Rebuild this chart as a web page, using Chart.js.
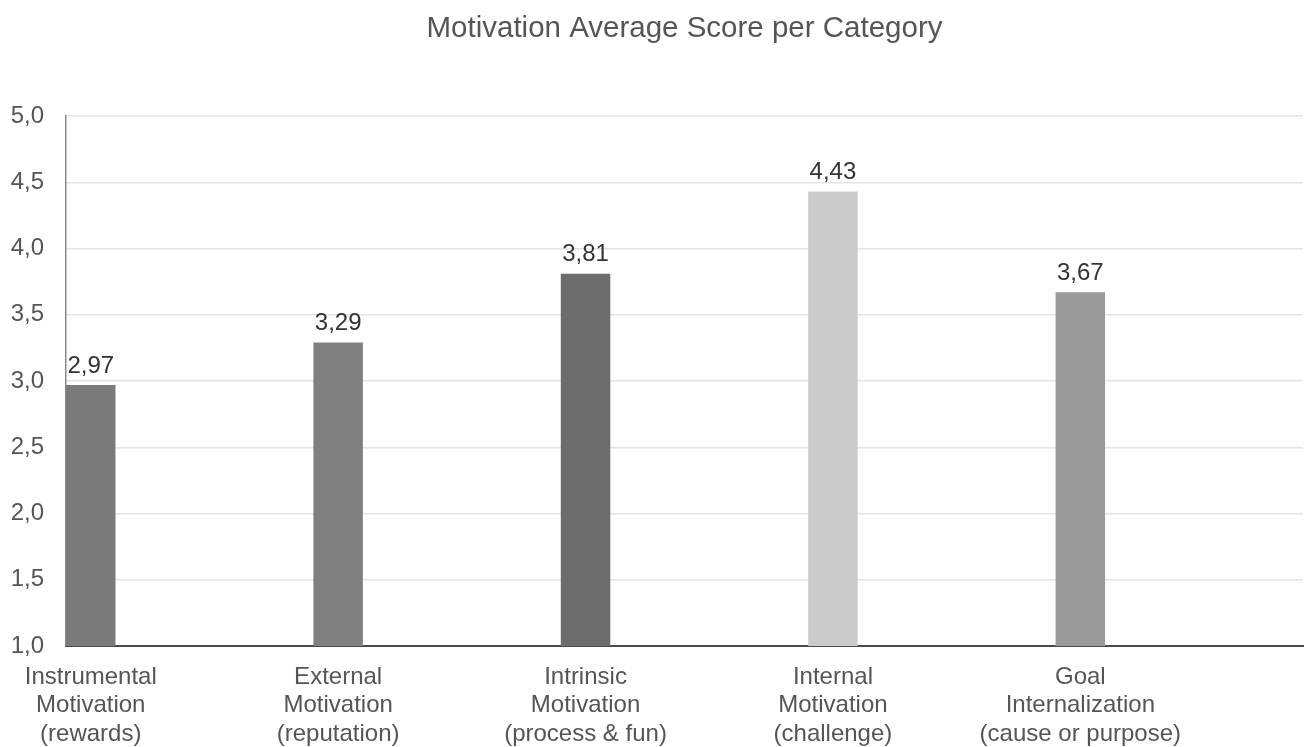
<!DOCTYPE html>
<html>
<head>
<meta charset="utf-8">
<title>Motivation Average Score per Category</title>
<script src="https://cdn.jsdelivr.net/npm/chart.js@4/dist/chart.umd.min.js"></script>
<style>
  html, body { margin: 0; padding: 0; background: #ffffff; }
  canvas { display: block; }
</style>
</head>
<body>
<canvas id="chart" width="1307" height="747"></canvas>
<script>
// Category names, one line per array entry
const categories = [
  ["Instrumental", "Motivation", "(rewards)"],
  ["External", "Motivation", "(reputation)"],
  ["Intrinsic", "Motivation", "(process & fun)"],
  ["Internal", "Motivation", "(challenge)"],
  ["Goal", "Internalization", "(cause or purpose)"]
];
// Average score per category
const scores = [2.97, 3.29, 3.81, 4.43, 3.67];
// Fill colour of each bar
const barColors = ["#7b7b7b", "#808080", "#6d6d6d", "#cbcbcb", "#9a9a9a"];
// Value axis range and step
const yMin = 1.0, yMax = 5.0, yStep = 0.5;

const FONT = "'Liberation Sans', Arial, Helvetica, sans-serif";
const commaNum = (v, d) => Number(v).toFixed(d).replace('.', ',');

// Writes each bar's value above it
const valueLabels = {
  id: 'valueLabels',
  afterDatasetsDraw(chart) {
    const ctx = chart.ctx;
    const meta = chart.getDatasetMeta(0);
    ctx.save();
    ctx.font = "24px " + FONT;
    ctx.fillStyle = "#333333";
    ctx.textAlign = "center";
    ctx.textBaseline = "bottom";
    meta.data.forEach((bar, i) => {
      ctx.fillText(commaNum(scores[i], 2), bar.x, bar.y - 7);
    });
    ctx.restore();
  }
};

new Chart(document.getElementById('chart'), {
  type: 'bar',
  data: {
    datasets: [{
      data: scores.map((s, i) => ({ x: i, y: s })),
      backgroundColor: barColors,
      borderWidth: 0,
      categoryPercentage: 1,
      barPercentage: 0.2
    }]
  },
  options: {
    responsive: false,
    animation: false,
    devicePixelRatio: 1,
    layout: { padding: { left: 10, right: 4, top: 0, bottom: 0 } },
    plugins: {
      legend: { display: false },
      tooltip: { enabled: false },
      title: {
        display: true,
        fullSize: false,
        text: "Motivation Average Score per Category",
        color: "#555555",
        font: { family: FONT, size: 29.5, weight: 'normal' },
        padding: { top: 10.8, bottom: 69.8 }
      }
    },
    scales: {
      x: {
        type: 'linear',
        offset: false,
        min: -0.1,
        max: 4.9,
        afterBuildTicks(scale) {
          scale.ticks = categories.map((c, i) => ({ value: i }));
        },
        afterFit(scale) { scale.height = 101; },
        grid: { display: false, drawTicks: false, offset: false },
        border: { display: true, color: "#4a4a4a", width: 2 },
        ticks: {
          autoSkip: false,
          maxRotation: 0,
          padding: 17,
          color: "#555555",
          font: { family: FONT, size: 24, lineHeight: 1.19 },
          callback: (v) => categories[v]
        }
      },
      y: {
        min: yMin,
        max: yMax,
        afterFit(scale) { scale.width = 56; },
        grid: { color: "#e4e4e4", lineWidth: 1.5, drawTicks: false },
        border: { display: true, color: "#8a8a8a", width: 1.5 },
        ticks: {
          stepSize: yStep,
          padding: 22,
          color: "#555555",
          font: { family: FONT, size: 24 },
          callback: (v) => commaNum(v, 1)
        }
      }
    }
  },
  plugins: [valueLabels]
});
</script>
</body>
</html>
